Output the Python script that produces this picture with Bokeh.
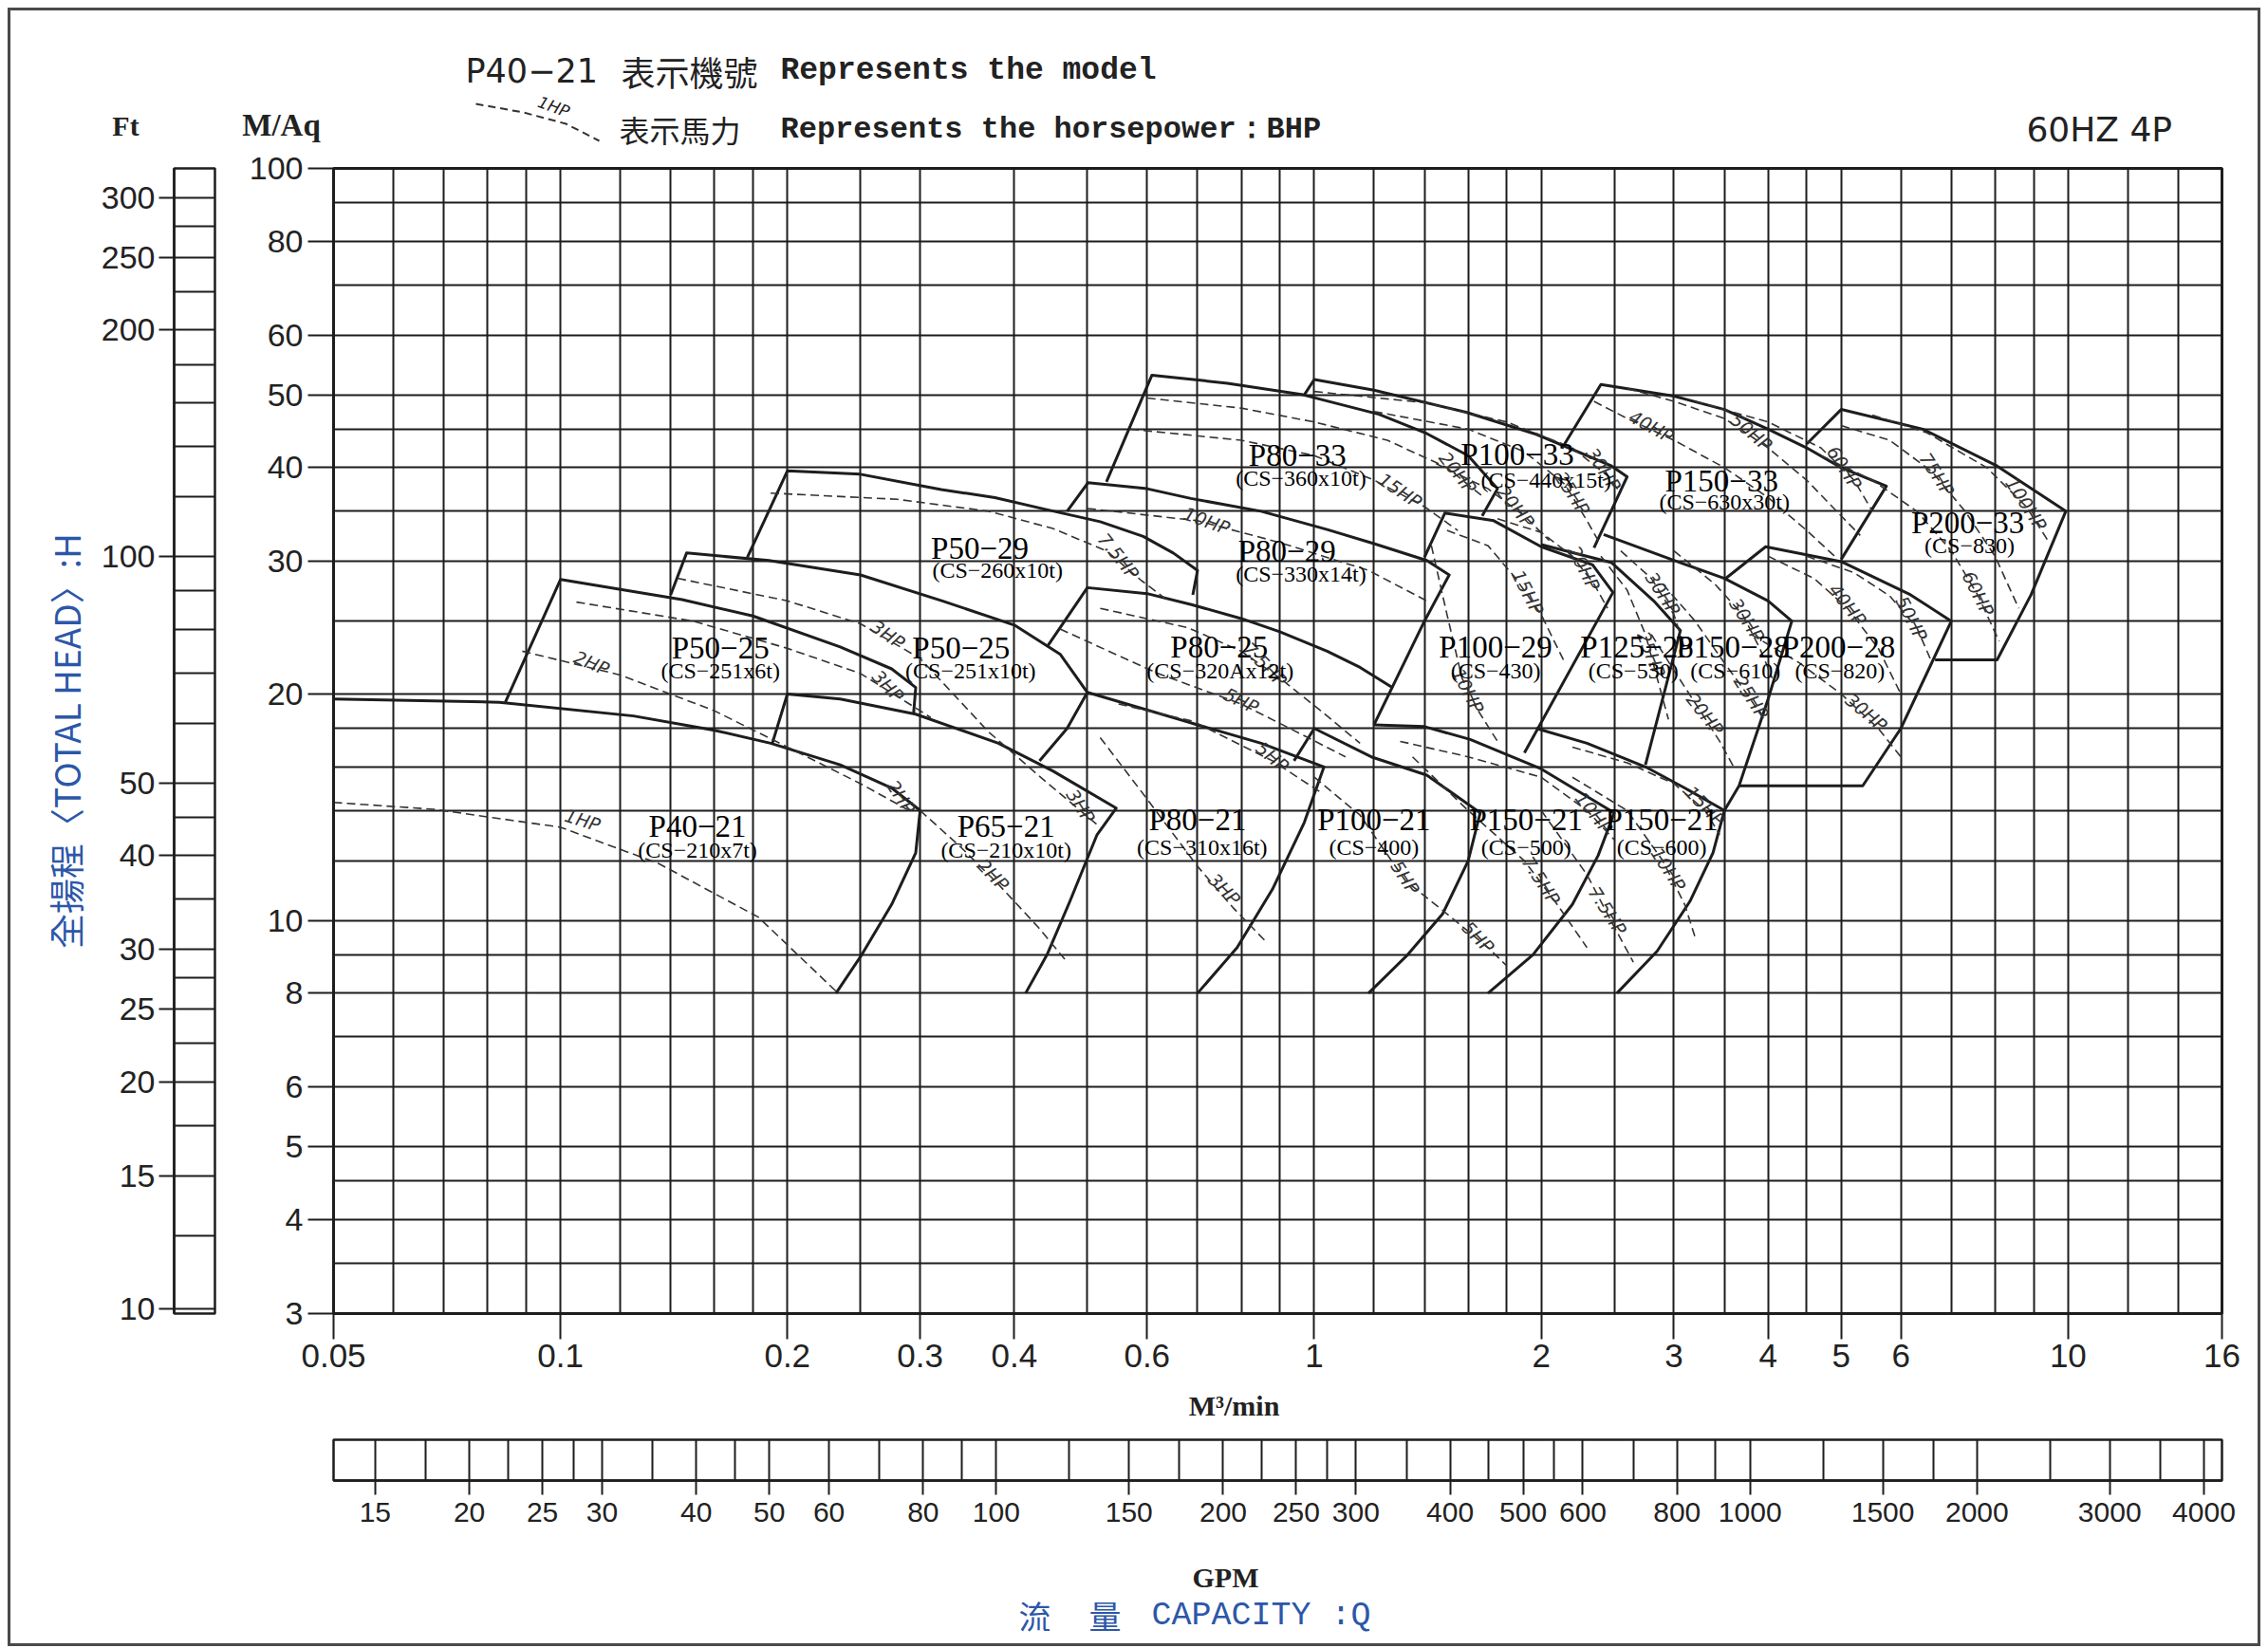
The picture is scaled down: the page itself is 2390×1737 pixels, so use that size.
from bokeh.plotting import figure
from bokeh.models import Range1d, FixedTicker, CustomJSTickFormatter
from bokeh.layouts import column, row
from bokeh.embed import file_html
from bokeh.resources import INLINE
from bokeh.core.properties import value

# ---------------- unit conversions ----------------
M_TO_FT = 3.28084
M3MIN_TO_GPM = 264.172

# ---------------- axes / grids ----------------
FLOW_TICKS = [0.05, 0.1, 0.2, 0.3, 0.4, 0.6, 1, 2, 3, 4, 5, 6, 10, 16]
FLOW_GRID = [0.05, 0.06, 0.07, 0.08, 0.09, 0.1, 0.12, 0.14, 0.16, 0.18, 0.2, 0.25, 0.3, 0.4,
             0.5, 0.6, 0.7, 0.8, 0.9, 1, 1.2, 1.4, 1.6, 1.8, 2, 2.5, 3, 3.5, 4, 4.5, 5, 6,
             7, 8, 9, 10, 12, 14, 16]
HEAD_TICKS = [3, 4, 5, 6, 8, 10, 20, 30, 40, 50, 60, 80, 100]
HEAD_GRID = [3, 3.5, 4, 4.5, 5, 6, 7, 8, 9, 10, 12, 14, 16, 18, 20, 25, 30, 35, 40, 45, 50,
             60, 70, 80, 90, 100]
FT_TICKS = [10, 15, 20, 25, 30, 40, 50, 100, 200, 250, 300]
FT_MINOR = [12.5, 17.5, 22.5, 27.5, 35, 45, 60, 70, 80, 90, 120, 140, 160, 180, 225, 275]
GPM_TICKS = [15, 20, 25, 30, 40, 50, 60, 80, 100, 150, 200, 250, 300, 400, 500, 600, 800,
             1000, 1500, 2000, 3000, 4000]
GPM_MINOR = [17.5, 22.5, 27.5, 35, 45, 70, 90, 125, 175, 225, 275, 350, 450, 550, 700, 900,
             1250, 1750, 2500, 3500]

# ---------------- pump envelopes (Q m3/min, H m) ----------------
P40_21_Q = [0.05, 0.083, 0.125, 0.16, 0.19, 0.235, 0.275, 0.30, 0.296, 0.275, 0.251, 0.232]
P40_21_H = [19.7, 19.5, 18.7, 17.9, 17.2, 16.1, 15.0, 14.0, 12.3, 10.5, 9.0, 8.0]
P50_25A_Q = [0.0845, 0.1, 0.145, 0.18, 0.235, 0.275, 0.296, 0.294]
P50_25A_H = [19.5, 28.4, 26.7, 25.4, 23.1, 21.6, 20.4, 18.8]
P65_21_Q = [0.191, 0.2, 0.235, 0.296, 0.381, 0.45, 0.546, 0.515, 0.474, 0.442, 0.414]
P65_21_H = [17.2, 20.0, 19.7, 18.8, 17.2, 15.8, 14.1, 13.0, 10.6, 9.0, 8.0]
P50_25B_Q = [0.14, 0.147, 0.189, 0.25, 0.321, 0.40, 0.46, 0.50, 0.47, 0.432]
P50_25B_H = [27.1, 30.8, 30.1, 28.8, 26.6, 24.7, 22.6, 20.1, 18.0, 16.3]
P50_29_Q = [0.177, 0.2, 0.25, 0.32, 0.377, 0.44, 0.52, 0.593, 0.65, 0.70, 0.69]
P50_29_H = [30.4, 39.6, 39.2, 37.4, 36.5, 35.2, 33.9, 32.4, 30.8, 29.2, 27.1]
P80_25_Q = [0.442, 0.50, 0.6, 0.687, 0.8, 0.9, 1.04, 1.15, 1.27]
P80_25_H = [23.1, 27.7, 27.2, 26.3, 25.2, 24.2, 22.8, 21.7, 20.4]
P80_29_Q = [0.47, 0.501, 0.6, 0.686, 0.85, 1.04, 1.2, 1.41, 1.51, 1.40, 1.20]
P80_29_H = [35.0, 38.2, 37.5, 36.4, 35.0, 33.1, 31.7, 30.1, 28.8, 25.0, 18.2]
P80_33_Q = [0.53, 0.609, 0.767, 0.966, 1.218, 1.41, 1.6, 1.75, 1.67]
P80_33_H = [38.3, 53.1, 51.8, 50.0, 47.1, 44.4, 41.5, 37.5, 34.5]
P100_33_Q = [0.97, 1.0, 1.2, 1.59, 1.97, 2.48, 2.60, 2.35]
P100_33_H = [50.0, 52.4, 50.7, 47.4, 44.3, 40.2, 38.9, 31.3]
P150_33_Q = [2.13, 2.4, 3.0, 3.5, 4.0, 4.5, 5.0, 5.74, 5.0]
P150_33_H = [42.4, 51.6, 49.8, 47.8, 45.0, 42.5, 40.0, 37.8, 30.2]
P200_33_Q = [4.5, 5.0, 6.42, 8.05, 9.93, 8.93, 8.05, 6.66]
P200_33_H = [43.0, 47.8, 45.0, 40.2, 35.0, 27.1, 22.2, 22.2]
P200_28_Q = [3.5, 3.97, 5.0, 6.18, 7.0, 6.0, 5.34, 3.66]
P200_28_H = [28.4, 31.4, 30.0, 27.1, 25.0, 18.0, 15.1, 15.1]
P150_28_Q = [2.42, 3.06, 3.5, 4.0, 4.3, 4.0, 3.66, 3.5]
P150_28_H = [32.6, 29.9, 28.5, 26.6, 25.0, 19.7, 15.1, 14.0]
P100_29_Q = [1.40, 1.49, 1.73, 2.0, 2.34, 2.49, 1.90]
P100_29_H = [30.4, 34.8, 34.0, 31.4, 29.7, 27.3, 16.7]
P125_28_Q = [2.0, 2.48, 2.82, 3.06, 2.75]
P125_28_H = [31.6, 29.9, 26.6, 24.3, 16.1]
P80_21_Q = [0.5, 0.7, 0.85, 1.03, 0.97, 0.88, 0.79, 0.70]
P80_21_H = [20.1, 18.2, 17.2, 16.0, 13.5, 11.0, 9.2, 8.0]
P100_21_Q = [0.94, 1.0, 1.19, 1.41, 1.66, 1.60, 1.48, 1.33, 1.18]
P100_21_H = [16.3, 18.0, 16.5, 15.6, 13.9, 12.0, 10.2, 9.0, 8.0]
P150_21A_Q = [1.2, 1.4, 1.61, 2.0, 2.5, 2.38, 2.2, 1.95, 1.70]
P150_21A_H = [18.2, 18.1, 17.4, 15.9, 13.9, 12.2, 10.5, 9.0, 8.0]
P150_21B_Q = [1.97, 2.3, 2.75, 3.1, 3.5, 3.38, 3.15, 2.85, 2.52]
P150_21B_H = [18.0, 17.2, 16.0, 15.0, 14.0, 12.3, 10.6, 9.1, 8.0]

ENVELOPES = [(P40_21_Q, P40_21_H), (P50_25A_Q, P50_25A_H), (P65_21_Q, P65_21_H),
             (P50_25B_Q, P50_25B_H), (P50_29_Q, P50_29_H), (P80_25_Q, P80_25_H),
             (P80_29_Q, P80_29_H), (P80_33_Q, P80_33_H), (P100_33_Q, P100_33_H),
             (P150_33_Q, P150_33_H), (P200_33_Q, P200_33_H), (P200_28_Q, P200_28_H),
             (P150_28_Q, P150_28_H), (P100_29_Q, P100_29_H), (P125_28_Q, P125_28_H),
             (P80_21_Q, P80_21_H), (P100_21_Q, P100_21_H), (P150_21A_Q, P150_21A_H),
             (P150_21B_Q, P150_21B_H)]

# ---------------- horsepower (BHP) dashed lines ----------------
HP01_Q = [0.05, 0.068, 0.1, 0.135, 0.183, 0.232]; HP01_H = [14.35, 14.05, 13.3, 11.9, 10.1, 8.05]
HP02_Q = [0.089, 0.12, 0.16, 0.2, 0.25, 0.29]; HP02_H = [22.8, 21.2, 19.0, 17.0, 15.2, 14.0]
HP03_Q = [0.105, 0.15, 0.2, 0.25, 0.3, 0.31]; HP03_H = [26.5, 25.0, 23.0, 21.3, 19.0, 18.6]
HP04_Q = [0.143, 0.2, 0.25, 0.3, 0.37, 0.44, 0.52]; HP04_H = [28.5, 26.6, 24.8, 22.3, 17.8, 15.3, 13.3]
HP05_Q = [0.30, 0.34, 0.38, 0.43, 0.47]; HP05_H = [14.0, 12.5, 11.2, 9.8, 8.8]
HP06_Q = [0.19, 0.28, 0.37, 0.45, 0.53, 0.59, 0.64]; HP06_H = [37.0, 36.3, 35.0, 33.2, 31.0, 28.3, 26.6]
HP07_Q = [0.5, 0.7, 0.9, 1.18, 1.41]; HP07_H = [35.3, 34.0, 31.8, 29.2, 26.6]
HP08_Q = [0.46, 0.62, 0.8, 0.97, 1.1]; HP08_H = [24.4, 21.3, 19.4, 17.6, 16.5]
HP09_Q = [0.52, 0.68, 0.8, 0.9, 1.02, 1.15]; HP09_H = [26.0, 24.5, 22.8, 21.0, 19.0, 17.2]
HP10_Q = [0.55, 0.69, 0.88, 1.02]; HP10_H = [19.4, 18.4, 16.3, 14.8]
HP11_Q = [0.52, 0.6, 0.7, 0.78, 0.86]; HP11_H = [17.5, 14.5, 11.8, 10.4, 9.4]
HP12_Q = [0.57, 0.8, 1.0, 1.2, 1.4, 1.55]; HP12_H = [45.0, 43.5, 41.5, 38.5, 35.5, 33.0]
HP13_Q = [0.6, 0.8, 1.0, 1.25, 1.5, 1.68]; HP13_H = [49.5, 48.0, 46.0, 43.5, 40.0, 36.5]
HP14_Q = [1.0, 1.4, 1.8, 2.2, 2.45, 2.55]; HP14_H = [50.5, 48.8, 46.0, 42.5, 39.0, 37.0]
HP15_Q = [1.2, 1.6, 1.9, 2.15, 2.3, 2.38]; HP15_H = [47.5, 45.0, 42.0, 38.0, 34.0, 32.0]
HP16_Q = [1.45, 1.7, 1.9, 2.05]; HP16_H = [40.5, 37.5, 34.5, 32.0]
HP17_Q = [1.75, 2.0, 2.2, 2.35, 2.45]; HP17_H = [34.2, 32.8, 30.5, 28.0, 26.0]
HP18_Q = [1.5, 1.7, 1.85, 2.0, 2.15]; HP18_H = [33.0, 31.5, 28.5, 25.5, 22.0]
HP19_Q = [1.43, 1.5, 1.57, 1.65, 1.75]; HP19_H = [31.5, 25.5, 21.0, 19.0, 17.3]
HP20_Q = [2.55, 2.8, 3.0, 3.1]; HP20_H = [31.0, 28.5, 25.5, 23.0]
HP21_Q = [2.4, 2.6, 2.75, 2.85, 2.95]; HP21_H = [30.5, 27.5, 24.0, 21.0, 18.5]
HP22_Q = [3.0, 3.4, 3.7, 3.9, 4.05]; HP22_H = [31.0, 28.0, 25.5, 23.0, 21.0]
HP23_Q = [2.9, 3.2, 3.5, 3.75, 3.95]; HP23_H = [28.0, 25.0, 22.0, 20.0, 18.5]
HP24_Q = [2.8, 3.0, 3.25, 3.45, 3.6]; HP24_H = [24.0, 21.5, 19.0, 17.3, 16.0]
HP25_Q = [2.35, 2.6, 3.0, 3.5, 4.0, 4.5, 4.9]; HP25_H = [49.0, 46.5, 43.5, 40.0, 36.5, 33.0, 30.5]
HP26_Q = [2.6, 3.0, 3.5, 4.0, 4.5, 5.0, 5.3]; HP26_H = [51.0, 49.0, 46.5, 42.5, 38.5, 34.5, 32.5]
HP27_Q = [3.2, 4.0, 4.7, 5.2, 5.5]; HP27_H = [49.0, 46.0, 42.5, 38.5, 35.0]
HP28_Q = [5.0, 5.8, 6.6, 7.3, 8.0, 8.6]; HP28_H = [45.5, 43.5, 39.5, 35.0, 30.5, 26.0]
HP29_Q = [5.5, 6.5, 7.8, 8.8, 9.4]; HP29_H = [47.0, 44.5, 40.0, 35.5, 32.0]
HP30_Q = [4.7, 5.5, 6.3, 7.0, 7.6, 8.1]; HP30_H = [41.5, 38.5, 35.0, 31.0, 27.0, 23.5]
HP31_Q = [4.5, 5.2, 5.8, 6.3, 6.6]; HP31_H = [30.5, 29.0, 27.0, 24.5, 22.0]
HP32_Q = [4.0, 4.6, 5.1, 5.6, 6.0]; HP32_H = [30.5, 28.5, 26.0, 23.0, 20.0]
HP33_Q = [3.8, 4.4, 5.0, 5.6, 6.0]; HP33_H = [24.0, 22.0, 20.0, 18.0, 16.5]
HP34_Q = [1.0, 1.15, 1.32, 1.5, 1.7, 1.8]; HP34_H = [15.5, 13.8, 11.3, 10.2, 9.2, 8.7]
HP35_Q = [1.3, 1.6, 2.0, 2.3, 2.5]; HP35_H = [17.3, 16.5, 15.5, 14.0, 12.8]
HP36_Q = [1.35, 1.6, 1.9, 2.1, 2.3]; HP36_H = [16.5, 14.0, 12.0, 10.5, 9.2]
HP37_Q = [2.2, 2.6, 3.0, 3.3, 3.45]; HP37_H = [17.0, 16.2, 15.2, 14.0, 13.0]
HP38_Q = [2.2, 2.6, 2.9, 3.1, 3.2]; HP38_H = [15.5, 14.0, 12.0, 10.5, 9.5]
HP39_Q = [2.0, 2.3, 2.5, 2.65]; HP39_H = [14.0, 11.5, 9.8, 8.8]

HP_LINES = [(HP01_Q, HP01_H), (HP02_Q, HP02_H), (HP03_Q, HP03_H), (HP04_Q, HP04_H),
            (HP05_Q, HP05_H), (HP06_Q, HP06_H), (HP07_Q, HP07_H), (HP08_Q, HP08_H),
            (HP09_Q, HP09_H), (HP10_Q, HP10_H), (HP11_Q, HP11_H), (HP12_Q, HP12_H),
            (HP13_Q, HP13_H), (HP14_Q, HP14_H), (HP15_Q, HP15_H), (HP16_Q, HP16_H),
            (HP17_Q, HP17_H), (HP18_Q, HP18_H), (HP19_Q, HP19_H), (HP20_Q, HP20_H),
            (HP21_Q, HP21_H), (HP22_Q, HP22_H), (HP23_Q, HP23_H), (HP24_Q, HP24_H),
            (HP25_Q, HP25_H), (HP26_Q, HP26_H), (HP27_Q, HP27_H), (HP28_Q, HP28_H),
            (HP29_Q, HP29_H), (HP30_Q, HP30_H), (HP31_Q, HP31_H), (HP32_Q, HP32_H),
            (HP33_Q, HP33_H), (HP34_Q, HP34_H), (HP35_Q, HP35_H), (HP36_Q, HP36_H),
            (HP37_Q, HP37_H), (HP38_Q, HP38_H), (HP39_Q, HP39_H)]

HP_TEXT = ["1HP", "2HP", "2HP", "3HP", "3HP", "3HP", "2HP", "7.5HP", "10HP", "5HP", "7.5HP",
           "5HP", "3HP", "15HP", "20HP", "30HP", "25HP", "20HP", "20HP", "15HP", "10HP",
           "30HP", "25HP", "30HP", "25HP", "20HP", "40HP", "50HP", "60HP", "75HP", "100HP",
           "60HP", "50HP", "40HP", "30HP", "5HP", "5HP", "10HP", "7.5HP", "15HP", "10HP", "7.5HP"]
HP_Q = [0.107, 0.11, 0.283, 0.272, 0.272, 0.49, 0.375, 0.55, 0.72, 0.8, 0.86,
        0.88, 0.76, 1.3, 1.55, 2.42, 2.2, 1.85, 2.28, 1.92, 1.6,
        2.9, 2.8, 3.75, 3.8, 3.3, 2.8, 3.8, 5.05, 6.7, 8.8,
        7.6, 6.2, 5.1, 5.4, 1.32, 1.65, 2.35, 2.0, 3.3, 2.95, 2.45]
HP_H = [13.6, 22.0, 14.6, 20.5, 24.0, 14.2, 11.5, 30.5, 34.0, 19.6, 21.9,
        16.5, 11.0, 37.3, 39.4, 39.8, 37.0, 35.5, 29.4, 27.3, 20.2,
        27.2, 22.6, 25.1, 19.8, 18.8, 45.4, 44.6, 40.0, 39.2, 35.8,
        27.2, 25.2, 26.3, 18.9, 11.4, 9.5, 13.9, 11.3, 14.2, 11.7, 10.3]
HP_ANGLE = [-0.3, -0.4, -1.0, -0.8, -0.6, -1.0, -0.8, -0.9, -0.35, -0.45, -0.8,
            -0.7, -0.8, -0.6, -0.9, -1.0, -1.0, -0.9, -1.1, -1.1, -1.1,
            -1.0, -1.2, -1.0, -1.0, -0.9, -0.5, -0.7, -1.0, -1.0, -1.0,
            -1.1, -1.1, -0.9, -0.7, -1.0, -0.8, -0.9, -1.0, -0.8, -1.0, -1.0]

# ---------------- model labels ----------------
MODEL_NAMES = ["P40\u221221", "P50\u221225", "P50\u221225", "P50\u221229", "P65\u221221",
               "P80\u221225", "P80\u221229", "P80\u221233", "P80\u221221", "P100\u221221",
               "P150\u221221", "P150\u221221", "P100\u221229", "P125\u221228", "P150\u221228",
               "P200\u221228", "P150\u221233", "P100\u221233", "P200\u221233"]
MODEL_Q = [0.152, 0.163, 0.34, 0.36, 0.39, 0.748, 0.92, 0.95, 0.70, 1.2,
           1.91, 2.89, 1.74, 2.68, 3.59, 4.96, 3.47, 1.86, 7.36]
MODEL_H = [13.35, 23.0, 23.0, 31.2, 13.35, 23.1, 31.0, 41.5, 13.6, 13.6,
           13.6, 13.6, 23.1, 23.1, 23.1, 23.1, 38.4, 41.6, 33.8]
SUB_NAMES = ["(CS\u2212210x7t)", "(CS\u2212251x6t)", "(CS\u2212251x10t)", "(CS\u2212260x10t)",
             "(CS\u2212210x10t)", "(CS\u2212320Ax12t)", "(CS\u2212330x14t)", "(CS\u2212360x10t)",
             "(CS\u2212310x16t)", "(CS\u2212400)", "(CS\u2212500)", "(CS\u2212600)", "(CS\u2212430)",
             "(CS\u2212530)", "(CS\u2212610)", "(CS\u2212820)", "(CS\u2212630x30t)",
             "(CS\u2212440x15t)", "(CS\u2212830)"]
SUB_Q = [0.152, 0.163, 0.35, 0.38, 0.39, 0.75, 0.96, 0.96, 0.71, 1.2,
         1.91, 2.89, 1.74, 2.65, 3.62, 4.98, 3.5, 2.03, 7.4]
SUB_H = [12.4, 21.5, 21.5, 29.2, 12.4, 21.5, 28.9, 38.7, 12.5, 12.5,
         12.5, 12.5, 21.5, 21.5, 21.5, 21.5, 36.0, 38.5, 31.5]

LINE = "#1d1d1d"
TEXT = "#222222"
BLUE = "#2c57a8"
W_TOTAL = 2368


def strip(height):
    """A plain text strip (pixel-like coordinates, y downward) used for titles and legend."""
    s = figure(width=W_TOTAL, height=height, x_range=Range1d(0, W_TOTAL), y_range=Range1d(height, 0),
               title=None, x_axis_location=None, y_axis_location=None, output_backend="svg",
               toolbar_location=None, min_border=0, background_fill_color="white",
               border_fill_color="white")
    s.min_border_left = s.min_border_right = s.min_border_top = s.min_border_bottom = 0
    s.grid.visible = False
    s.outline_line_color = None
    try:
        s.frame_align = False
    except AttributeError:
        pass
    return s


def txt(fig, x, y, text, font, size, color=TEXT, align="left", style="normal", angle=0.0):
    fig.text(x=[x], y=[y], text=[text], text_font=value(font), text_font_size=size,
             text_color=color, text_align=align, text_baseline="middle",
             text_font_style=style, angle=[angle])


# ======================= header (legend) =======================
HEADER_H = 148
header = strip(HEADER_H)
txt(header, 121, 121, "Ft", "Liberation Serif", "30px", align="center", style="bold")
txt(header, 285, 120, "M/Aq", "Liberation Serif", "33px", align="center", style="bold")
txt(header, 479, 63, "P40\u221221", "DejaVu Sans", "35px")
txt(header, 643, 63, "表示機號", "Noto Sans CJK TC", "36px")
txt(header, 811, 63, "Represents the model", "Liberation Mono", "33px", style="bold")
LEGEND_DASH_X = [490, 540, 585, 620]
LEGEND_DASH_Y = [98, 107, 119, 137]
header.line(LEGEND_DASH_X, LEGEND_DASH_Y, line_dash="8 5", line_width=2, line_color="#333333")
txt(header, 572, 101, "1HP", "DejaVu Sans", "17px", align="center", style="italic", angle=-0.35)
txt(header, 641, 124, "表示馬力", "Noto Sans CJK TC", "32px")
txt(header, 811, 125, "Represents the horsepower：BHP", "Liberation Mono", "32px", style="bold")
txt(header, 2289, 125, "60HZ  4P", "DejaVu Sans", "36px", align="right")

# ======================= main chart =======================
ROW_H = 1303
main = figure(width=2131, height=ROW_H, x_axis_type="log", y_axis_type="log",
              x_range=Range1d(0.05, 16), y_range=Range1d(3, 100), title=None,
              output_backend="svg", toolbar_location=None,
              min_border_left=103, min_border_right=38, min_border_top=18, min_border_bottom=78,
              background_fill_color="white", border_fill_color="white")
main.outline_line_color = LINE
main.outline_line_width = 3
main.outline_line_alpha = 1

fmt = CustomJSTickFormatter(code="return String(tick);")
for ax, ticks, size in ((main.xaxis[0], FLOW_TICKS, "35px"), (main.yaxis[0], HEAD_TICKS, "34px")):
    ax.ticker = FixedTicker(ticks=ticks)
    ax.formatter = fmt
    ax.major_tick_out = 27
    ax.major_tick_in = 0
    ax.minor_tick_out = 0
    ax.minor_tick_in = 0
    ax.major_tick_line_width = 2
    ax.major_tick_line_color = LINE
    ax.axis_line_width = 3
    ax.axis_line_color = LINE
    ax.major_label_text_font = "Liberation Sans"
    ax.major_label_text_font_size = size
    ax.major_label_text_color = TEXT
    ax.major_label_standoff = 5

main.xgrid.ticker = FixedTicker(ticks=FLOW_GRID)
main.ygrid.ticker = FixedTicker(ticks=HEAD_GRID)
for g in (main.xgrid[0], main.ygrid[0]):
    g.grid_line_color = LINE
    g.grid_line_width = 2
    g.grid_line_alpha = 1
    g.minor_grid_line_color = None

for q, h in ENVELOPES:
    main.line(q, h, line_color=LINE, line_width=3, line_join="round")
for q, h in HP_LINES:
    main.line(q, h, line_color="#333333", line_width=1.6, line_dash="9 5")

main.text(x=HP_Q, y=HP_H, text=HP_TEXT, angle=HP_ANGLE, text_font=value("DejaVu Sans"),
          text_font_size="19px", text_color="#333333", text_align="center",
          text_baseline="middle", text_font_style="italic")
main.text(x=MODEL_Q, y=MODEL_H, text=MODEL_NAMES, text_font=value("Liberation Serif"),
          text_font_size="33px", text_color="#000000", text_align="center", text_baseline="middle")
main.text(x=SUB_Q, y=SUB_H, text=SUB_NAMES, text_font=value("Liberation Serif"),
          text_font_size="24px", text_color="#000000", text_align="center", text_baseline="middle")

# ======================= feet scale =======================
ft = figure(width=237, height=ROW_H, y_axis_type="log", x_range=Range1d(0, 1),
            y_range=Range1d(3 * M_TO_FT, 100 * M_TO_FT), title=None, x_axis_location=None,
            output_backend="svg", toolbar_location=None,
            min_border_left=172, min_border_right=22, min_border_top=18, min_border_bottom=78,
            background_fill_color="white", border_fill_color="white")
ft.grid.visible = False
ft.outline_line_color = LINE
ft.outline_line_width = 2.5
fa = ft.yaxis[0]
fa.ticker = FixedTicker(ticks=FT_TICKS, minor_ticks=FT_MINOR)
fa.formatter = CustomJSTickFormatter(code="return String(tick);")
fa.major_tick_out = 16
fa.major_tick_in = 43
fa.minor_tick_out = 0
fa.minor_tick_in = 43
fa.major_tick_line_width = 2
fa.minor_tick_line_width = 2
fa.major_tick_line_color = LINE
fa.minor_tick_line_color = LINE
fa.axis_line_width = 2.5
fa.axis_line_color = LINE
fa.major_label_text_font = "Liberation Sans"
fa.major_label_text_font_size = "34px"
fa.major_label_text_color = TEXT
fa.major_label_standoff = 4
fa.axis_label = "全揚程〈TOTAL HEAD〉:H"
fa.axis_label_text_font = "Noto Sans CJK TC"
fa.axis_label_text_font_size = "37px"
fa.axis_label_text_font_style = "normal"
fa.axis_label_text_color = BLUE
fa.axis_label_standoff = 8

# ======================= M3/min title strip =======================
mid = strip(43)
txt(mid, 1289, 19, "M³/min", "Liberation Serif", "30px", align="center", style="bold")

# ======================= GPM scale =======================
gpm = figure(width=W_TOTAL, height=117, x_axis_type="log",
             x_range=Range1d(0.05 * M3MIN_TO_GPM, 16 * M3MIN_TO_GPM), y_range=Range1d(0, 1),
             title=None, y_axis_location=None, output_backend="svg", toolbar_location=None,
             min_border_left=340, min_border_right=38, min_border_top=12, min_border_bottom=62,
             background_fill_color="white", border_fill_color="white")
gpm.grid.visible = False
gpm.outline_line_color = LINE
gpm.outline_line_width = 2.5
ga = gpm.xaxis[0]
ga.ticker = FixedTicker(ticks=GPM_TICKS, minor_ticks=GPM_MINOR)
ga.formatter = CustomJSTickFormatter(code="return String(tick);")
ga.major_tick_out = 15
ga.major_tick_in = 43
ga.minor_tick_out = 0
ga.minor_tick_in = 43
ga.major_tick_line_width = 2
ga.minor_tick_line_width = 2
ga.major_tick_line_color = LINE
ga.minor_tick_line_color = LINE
ga.axis_line_width = 2.5
ga.axis_line_color = LINE
ga.major_label_text_font = "Liberation Sans"
ga.major_label_text_font_size = "30px"
ga.major_label_text_color = TEXT
ga.major_label_standoff = 8

# ======================= footer =======================
footer = strip(110)
txt(footer, 1280, 40, "GPM", "Liberation Serif", "30px", align="center", style="bold")
txt(footer, 1062, 80, "流", "Noto Sans CJK TC", "34px", color=BLUE)
txt(footer, 1136, 80, "量", "Noto Sans CJK TC", "34px", color=BLUE)
txt(footer, 1202, 80, "CAPACITY :Q", "Liberation Mono", "35px", color=BLUE)

layout = column(header, row(ft, main), mid, gpm, footer,
                styles={"border": "3px solid #4a4a4a", "background": "white",
                        "margin": "8px 8px 0px 8px"})

open("out.html", "w").write(file_html(layout, INLINE))
